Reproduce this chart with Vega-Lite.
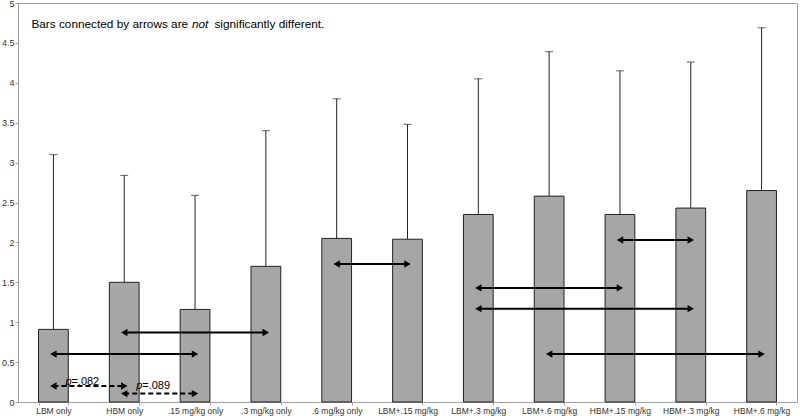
{
  "$schema": "https://vega.github.io/schema/vega-lite/v6.json",
  "width": 779,
  "height": 399,
  "autosize": "none",
  "padding": {"left": 18, "top": 3, "right": 3, "bottom": 14},
  "background": "white",
  "config": {
    "font": "Liberation Sans",
    "view": {"stroke": "#a0a0a0", "strokeWidth": 1},
    "axis": {
      "domainColor": "#a0a0a0",
      "tickColor": "#a0a0a0",
      "tickSize": 3,
      "labelFont": "Liberation Sans",
      "labelFontSize": 8.5,
      "labelColor": "#333333",
      "labelOverlap": false,
      "grid": false
    },
    "axisY": {"labelFontSize": 9, "labelPadding": 1}
  },
  "datasets": {
    "bars": [
      {"group": "LBM only", "mean": 0.91, "upper": 3.1},
      {"group": "HBM only", "mean": 1.5, "upper": 2.84},
      {"group": ".15 mg/kg only", "mean": 1.16, "upper": 2.59},
      {"group": ".3 mg/kg only", "mean": 1.7, "upper": 3.4},
      {"group": ".6 mg/kg only", "mean": 2.05, "upper": 3.8},
      {"group": "LBM+.15 mg/kg", "mean": 2.04, "upper": 3.48},
      {"group": "LBM+.3 mg/kg", "mean": 2.35, "upper": 4.05},
      {"group": "LBM+.6 mg/kg", "mean": 2.58, "upper": 4.39},
      {"group": "HBM+.15 mg/kg", "mean": 2.35, "upper": 4.15},
      {"group": "HBM+.3 mg/kg", "mean": 2.43, "upper": 4.26},
      {"group": "HBM+.6 mg/kg", "mean": 2.65, "upper": 4.69}
    ],
    "arrows": [
      {"from": "LBM only", "to": "HBM only", "y": 0.2, "kind": "dashed"},
      {"from": "HBM only", "to": ".15 mg/kg only", "y": 0.105, "kind": "dashed"},
      {"from": "LBM only", "to": ".15 mg/kg only", "y": 0.6, "kind": "solid"},
      {"from": "HBM only", "to": ".3 mg/kg only", "y": 0.87, "kind": "solid"},
      {"from": ".6 mg/kg only", "to": "LBM+.15 mg/kg", "y": 1.73, "kind": "solid"},
      {"from": "LBM+.3 mg/kg", "to": "HBM+.15 mg/kg", "y": 1.43, "kind": "solid"},
      {"from": "LBM+.3 mg/kg", "to": "HBM+.3 mg/kg", "y": 1.17, "kind": "solid"},
      {"from": "HBM+.15 mg/kg", "to": "HBM+.3 mg/kg", "y": 2.03, "kind": "solid"},
      {"from": "LBM+.6 mg/kg", "to": "HBM+.6 mg/kg", "y": 0.6, "kind": "solid"}
    ],
    "pvals": [
      {"group": "LBM only", "y": 0.25, "p": "p", "rest": "=.082"},
      {"group": "HBM only", "y": 0.2, "p": "p", "rest": "=.089"}
    ],
    "note": [
      {"group": "LBM only", "y": 4.74, "a": "Bars connected by arrows are", "b": "not", "c": "significantly different."}
    ]
  },
  "encoding": {
    "y": {
      "type": "quantitative", "title": null,
      "scale": {"domain": [0, 5], "nice": false},
      "axis": {"title": null, "values": [0, 0.5, 1, 1.5, 2, 2.5, 3, 3.5, 4, 4.5, 5], "format": "~g"}
    }
  },
  "layer": [
    {
      "data": {"name": "bars"},
      "mark": {"type": "bar", "fill": "#a6a6a6", "stroke": "#222222", "strokeWidth": 1},
      "encoding": {
        "x": {
          "field": "group", "type": "nominal", "title": null,
          "scale": {"type": "band", "domain": ["LBM only", "HBM only", ".15 mg/kg only", ".3 mg/kg only", ".6 mg/kg only", "LBM+.15 mg/kg", "LBM+.3 mg/kg", "LBM+.6 mg/kg", "HBM+.15 mg/kg", "HBM+.3 mg/kg", "HBM+.6 mg/kg"], "paddingInner": 0.58, "paddingOuter": 0.29},
          "axis": {"title": null, "labelAngle": 0, "tickBand": "extent", "labelPadding": 1}
        },
        "y": {"field": "mean"}
      }
    },
    {
      "data": {"name": "bars"},
      "mark": {"type": "rule", "color": "#222222", "strokeWidth": 1},
      "encoding": {
        "x": {"field": "group", "type": "nominal", "title": null},
        "y": {"field": "mean"},
        "y2": {"field": "upper"}
      }
    },
    {
      "data": {"name": "bars"},
      "mark": {"type": "tick", "color": "#222222", "size": 8, "thickness": 1},
      "encoding": {
        "x": {"field": "group", "type": "nominal", "title": null},
        "y": {"field": "upper"}
      }
    },
    {
      "data": {"name": "arrows"},
      "mark": {"type": "rule", "color": "#000000", "strokeWidth": 2},
      "encoding": {
        "x": {"field": "from", "type": "nominal", "title": null},
        "x2": {"field": "to"},
        "y": {"field": "y"},
        "strokeDash": {"field": "kind", "type": "nominal", "scale": {"domain": ["solid", "dashed"], "range": [[1, 0], [5, 3]]}, "legend": null}
      }
    },
    {
      "data": {"name": "arrows"},
      "mark": {"type": "point", "shape": "triangle-left", "filled": true, "color": "#000000", "size": 55, "opacity": 1},
      "encoding": {
        "x": {"field": "from", "type": "nominal", "title": null},
        "y": {"field": "y"}
      }
    },
    {
      "data": {"name": "arrows"},
      "mark": {"type": "point", "shape": "triangle-right", "filled": true, "color": "#000000", "size": 55, "opacity": 1},
      "encoding": {
        "x": {"field": "to", "type": "nominal", "title": null},
        "y": {"field": "y"}
      }
    },
    {
      "data": {"name": "pvals"},
      "mark": {"type": "text", "align": "left", "baseline": "middle", "fontSize": 11, "fontStyle": "italic", "dx": 12, "color": "#000000"},
      "encoding": {
        "x": {"field": "group", "type": "nominal", "title": null},
        "y": {"field": "y"},
        "text": {"field": "p"}
      }
    },
    {
      "data": {"name": "pvals"},
      "mark": {"type": "text", "align": "left", "baseline": "middle", "fontSize": 11, "dx": 18, "color": "#000000"},
      "encoding": {
        "x": {"field": "group", "type": "nominal", "title": null},
        "y": {"field": "y"},
        "text": {"field": "rest"}
      }
    },
    {
      "data": {"name": "note"},
      "mark": {"type": "text", "align": "left", "baseline": "middle", "fontSize": 11.8, "dx": -22, "color": "#000000"},
      "encoding": {
        "x": {"field": "group", "type": "nominal", "title": null},
        "y": {"field": "y"},
        "text": {"field": "a"}
      }
    },
    {
      "data": {"name": "note"},
      "mark": {"type": "text", "align": "left", "baseline": "middle", "fontSize": 11.8, "fontStyle": "italic", "dx": 138.5, "color": "#000000"},
      "encoding": {
        "x": {"field": "group", "type": "nominal", "title": null},
        "y": {"field": "y"},
        "text": {"field": "b"}
      }
    },
    {
      "data": {"name": "note"},
      "mark": {"type": "text", "align": "left", "baseline": "middle", "fontSize": 11.8, "dx": 161, "color": "#000000"},
      "encoding": {
        "x": {"field": "group", "type": "nominal", "title": null},
        "y": {"field": "y"},
        "text": {"field": "c"}
      }
    }
  ]
}
